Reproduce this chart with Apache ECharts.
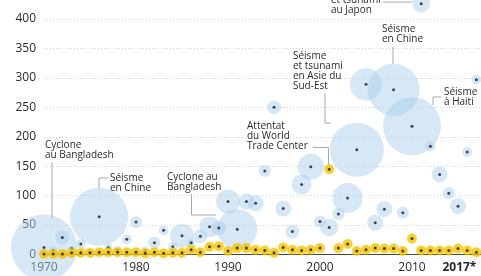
<!DOCTYPE html>
<html>
<head>
<meta charset="utf-8">
<script src="https://cdn.jsdelivr.net/npm/echarts@6/dist/echarts.min.js"></script>
<style>
  html, body { margin: 0; padding: 0; background: #fff; }
  #chart { width: 481px; height: 276px; }
</style>
</head>
<body>
<div id="chart"></div>
<script>
// années
const years = [1970, 1971, 1972, 1973, 1974, 1975, 1976, 1977, 1978, 1979,
  1980, 1981, 1982, 1983, 1984, 1985, 1986, 1987, 1988, 1989,
  1990, 1991, 1992, 1993, 1994, 1995, 1996, 1997, 1998, 1999,
  2000, 2001, 2002, 2003, 2004, 2005, 2006, 2007, 2008, 2009,
  2010, 2011, 2012, 2013, 2014, 2015, 2016, 2017];

// catastrophes naturelles (position) et victimes (taille de la bulle, en milliers)
const naturalValues = [12, 7, 29, 10, 18, 3, 64, 12, 8, 26,
  55, 7, 20, 41, 13, 32, 20, 31, 47, 45,
  90, 43, 90, 87, 142, 250, 78, 39, 119, 149,
  56, 46, 69, 96, 178, 289, 54, 77, 280, 71,
  218, 426, 184, 136, 104, 82, 174, 297];
const naturalVictims = [500, 7, 22, 4, 11, 7, 386, 7, 7, 11,
  17, 7, 17, 11, 11, 66, 7, 22, 50, 25,
  66, 184, 29, 29, 17, 22, 29, 22, 46, 78,
  17, 37, 17, 103, 335, 118, 29, 29, 310, 17,
  386, 37, 11, 29, 17, 29, 11, 11];

// attentats
const attackValues = [1, 1, 1, 3, 3, 3, 4, 4, 4, 4,
  4, 2, 4, 2, 3, 3, 8, 4, 13, 14,
  6, 11, 11, 8, 7, 3, 12, 8, 7, 8,
  11, 145, 11, 18, 6, 8, 11, 10, 10, 6,
  27, 7, 7, 7, 7, 10, 7, 4];

const xLabels = [1970, 1980, 1990, 2000, 2010, 2017];

const natural = years.map((y, i) => [y, naturalValues[i], naturalVictims[i]]);
const attacks = years.map((y, i) => [y, attackValues[i]]);

const font = '"Open Sans", "Noto Sans", sans-serif';
const lineColor = '#a9a9a9';

function note(x, y, text) {
  return {
    type: 'text', x: x, y: y, z: 20,
    style: { text: text, fill: '#2a2a2a', fontSize: 10, fontFamily: font, lineHeight: 10, verticalAlign: 'top' }
  };
}
function leader(points) {
  return {
    type: 'polyline', z: 19,
    shape: { points: points },
    style: { stroke: lineColor, lineWidth: 1, fill: null }
  };
}

const chart = echarts.init(document.getElementById('chart'), null, { renderer: 'canvas' });

chart.setOption({
  animation: false,
  grid: { left: 44, right: 0, top: 19, bottom: 21.5 },
  xAxis: {
    type: 'value',
    min: 1970,
    max: 2017.5,
    axisLine: { lineStyle: { color: '#444', width: 1 } },
    axisTick: { show: false },
    splitLine: { show: false },
    axisLabel: {
      customValues: xLabels,
      margin: 7,
      fontSize: 12,
      fontFamily: font,
      color: '#2a2a2a',
      alignMaxLabel: 'right',
      formatter: v => v === 2017 ? '{b|2017*}' : String(v),
      rich: { b: { fontWeight: 'bold', fontSize: 12, fontFamily: font, color: '#2a2a2a' } }
    }
  },
  yAxis: {
    type: 'value',
    min: 0,
    max: 400,
    interval: 50,
    axisLine: { show: false },
    axisTick: { show: false },
    axisLabel: { margin: 8, fontSize: 12, fontFamily: font, color: '#2a2a2a' },
    splitLine: { lineStyle: { color: '#d4d4d4', type: [1, 2], width: 1 } }
  },
  series: [
    {
      name: 'bulles',
      type: 'scatter',
      clip: false,
      data: natural,
      symbolSize: v => 66 * Math.sqrt(v[2] / 500),
      itemStyle: { color: 'rgba(170, 205, 234, 0.6)' },
      z: 1
    },
    {
      name: 'centres',
      type: 'scatter',
      clip: false,
      data: natural,
      symbolSize: 3,
      itemStyle: { color: '#1b1b2a' },
      z: 2
    },
    {
      name: 'attentats',
      type: 'scatter',
      data: attacks,
      symbolSize: 9,
      itemStyle: { color: '#f4c300', borderColor: 'rgba(244, 195, 0, 0.45)', borderWidth: 2 },
      z: 3
    },
    {
      name: 'attentats-centres',
      type: 'scatter',
      data: attacks,
      symbolSize: 3,
      itemStyle: { color: '#1b1b2a' },
      z: 4
    }
  ],
  graphic: [
    note(45, 140.5, 'Cyclone\nau Bangladesh'),
    leader([[52, 162], [52, 218]]),
    note(110, 173.5, 'Séisme\nen Chine'),
    leader([[108, 178], [99, 178], [99, 188]]),
    note(167, 172.5, 'Cyclone au\nBangladesh'),
    leader([[191.5, 194], [191.5, 215], [216, 215]]),
    note(247, 121.5, 'Attentat\ndu World\nTrade Center'),
    leader([[313, 147.5], [328.5, 147.5], [328.5, 165]]),
    note(293, 51.5, 'Séisme\net tsunami\nen Asie du\nSud-Est'),
    leader([[325, 93], [325, 123], [331, 123]]),
    note(382, 24.5, 'Séisme\nen Chine'),
    leader([[393, 47], [393, 64]]),
    note(444, 87.5, 'Séisme\nà Haiti'),
    leader([[441, 97], [433, 97], [433, 105]]),
    note(331, -14.5, 'Séisme\net tsunami\nau Japon'),
    leader([[383, 2], [412, 2]])
  ]
});
</script>
</body>
</html>
